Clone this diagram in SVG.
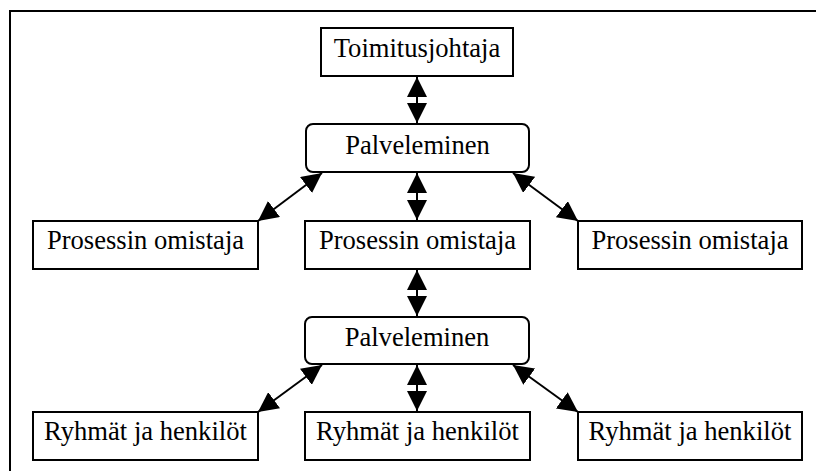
<svg xmlns="http://www.w3.org/2000/svg" width="816" height="471" viewBox="0 0 816 471">
<style>
.box{fill:#fff;stroke:#000;stroke-width:2}
.lbl{font-family:"Liberation Serif","Times New Roman",serif;font-size:26.6px;fill:#000;text-anchor:middle}
.conn{stroke:#000;stroke-width:2;fill:none;marker-start:url(#ah);marker-end:url(#ah)}
.frame{fill:none;stroke:#000;stroke-width:2}
</style>
<defs>
<marker id="ah" viewBox="0 0 20 20" refX="20" refY="10" markerWidth="20" markerHeight="20" markerUnits="userSpaceOnUse" orient="auto-start-reverse">
<path d="M0,0 L20,10 L0,20 z" fill="#000"/>
</marker>
</defs>
<rect width="816" height="471" fill="#fff"/>
<path class="frame" d="M10,471 V11 H816"/>
<g id="connectors">
<line class="conn" x1="417" y1="77" x2="417" y2="123"/>
<line class="conn" x1="417" y1="173" x2="417" y2="220"/>
<line class="conn" x1="322" y1="173" x2="258" y2="221"/>
<line class="conn" x1="513" y1="173" x2="578" y2="221"/>
<line class="conn" x1="417" y1="270" x2="417" y2="316"/>
<line class="conn" x1="417" y1="365" x2="417" y2="411"/>
<line class="conn" x1="322" y1="365" x2="258" y2="412"/>
<line class="conn" x1="513" y1="365" x2="578" y2="412"/>
</g>
<g id="toimitusjohtaja"><rect class="box" x="321" y="28" width="192" height="48"/><text class="lbl" x="417" y="57">Toimitusjohtaja</text></g>
<g id="palveleminen1"><rect class="box" x="306" y="124" width="223" height="48" rx="7"/><text class="lbl" x="417.5" y="154">Palveleminen</text></g>
<g id="prosessi-vasen"><rect class="box" x="33" y="221" width="225" height="48"/><text class="lbl" x="145.5" y="249">Prosessin omistaja</text></g>
<g id="prosessi-keski"><rect class="box" x="305" y="221" width="225" height="48"/><text class="lbl" x="417.5" y="249">Prosessin omistaja</text></g>
<g id="prosessi-oikea"><rect class="box" x="578" y="221" width="224" height="48"/><text class="lbl" x="690" y="249">Prosessin omistaja</text></g>
<g id="palveleminen2"><rect class="box" x="305" y="317" width="224" height="47" rx="7"/><text class="lbl" x="417" y="346">Palveleminen</text></g>
<g id="ryhmat-vasen"><rect class="box" x="33" y="412" width="225" height="48"/><text class="lbl" x="145.5" y="440">Ryhmät ja henkilöt</text></g>
<g id="ryhmat-keski"><rect class="box" x="305" y="412" width="225" height="48"/><text class="lbl" x="417.5" y="440">Ryhmät ja henkilöt</text></g>
<g id="ryhmat-oikea"><rect class="box" x="578" y="412" width="224" height="48"/><text class="lbl" x="690" y="440">Ryhmät ja henkilöt</text></g>
</svg>
